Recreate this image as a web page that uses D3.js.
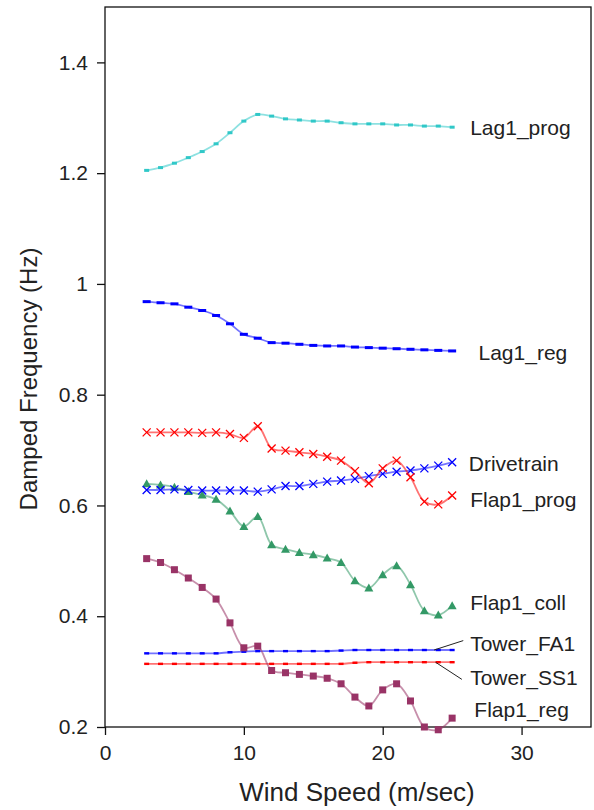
<!DOCTYPE html>
<html>
<head>
<meta charset="utf-8">
<script src="https://cdn.jsdelivr.net/npm/d3@7"></script>
<style>
  body { margin: 0; background: #fff; }
  text { font-family: "Liberation Sans", Arial, sans-serif; fill: #222; }
</style>
</head>
<body>
<script>
// wind speeds (m/sec) shared by all modes
var wind = [3, 4, 5, 6, 7, 8, 9, 10, 11, 12, 13, 14, 15, 16, 17, 18, 19, 20, 21, 22, 23, 24, 25];

// damped frequencies (Hz)
var lag1Prog  = [1.205, 1.210, 1.218, 1.228, 1.239, 1.253, 1.273, 1.294, 1.306, 1.303, 1.298, 1.296, 1.294, 1.294, 1.291, 1.289, 1.289, 1.289, 1.287, 1.287, 1.285, 1.285, 1.283];
var lag1Reg   = [0.968, 0.966, 0.964, 0.958, 0.952, 0.943, 0.928, 0.909, 0.902, 0.894, 0.893, 0.891, 0.889, 0.888, 0.888, 0.886, 0.885, 0.884, 0.883, 0.882, 0.881, 0.880, 0.879];
var flap1Prog = [0.732, 0.732, 0.732, 0.732, 0.731, 0.732, 0.729, 0.722, 0.743, 0.703, 0.699, 0.696, 0.693, 0.688, 0.681, 0.662, 0.640, 0.667, 0.681, 0.651, 0.607, 0.602, 0.618];
var drivetrain = [0.628, 0.628, 0.629, 0.628, 0.627, 0.627, 0.627, 0.627, 0.625, 0.629, 0.635, 0.635, 0.639, 0.643, 0.645, 0.648, 0.653, 0.657, 0.661, 0.663, 0.667, 0.672, 0.678];
var flap1Coll = [0.639, 0.637, 0.633, 0.625, 0.619, 0.611, 0.590, 0.562, 0.580, 0.529, 0.521, 0.515, 0.511, 0.505, 0.497, 0.464, 0.451, 0.475, 0.491, 0.457, 0.410, 0.402, 0.419];
var flap1Reg  = [0.504, 0.497, 0.484, 0.469, 0.452, 0.431, 0.388, 0.343, 0.346, 0.302, 0.298, 0.295, 0.292, 0.288, 0.278, 0.254, 0.238, 0.267, 0.278, 0.247, 0.200, 0.195, 0.216];
var towerFA1  = [0.333, 0.333, 0.333, 0.333, 0.333, 0.333, 0.335, 0.336, 0.337, 0.337, 0.337, 0.337, 0.337, 0.337, 0.338, 0.339, 0.339, 0.339, 0.339, 0.339, 0.339, 0.339, 0.339];
var towerSS1  = [0.314, 0.314, 0.314, 0.314, 0.314, 0.314, 0.314, 0.314, 0.314, 0.314, 0.314, 0.314, 0.314, 0.314, 0.314, 0.316, 0.317, 0.317, 0.317, 0.317, 0.317, 0.317, 0.317];

var xTicks = [0, 10, 20, 30];
var yTicks = [0.2, 0.4, 0.6, 0.8, 1.0, 1.2, 1.4];

// label anchors in data units (wind, Hz)
var labelNames = ["Lag1_prog", "Lag1_reg", "Drivetrain", "Flap1_prog", "Flap1_coll", "Tower_FA1", "Tower_SS1", "Flap1_reg"];
var labelAt = [[26.3, 1.283], [26.9, 0.876], [26.2, 0.676], [26.3, 0.611], [26.3, 0.425], [26.3, 0.351], [26.3, 0.290], [26.6, 0.231]];

var series = [
  {name: "Lag1_prog", values: lag1Prog, color: "#30c8c8", marker: "smallbox"},
  {name: "Lag1_reg", values: lag1Reg, color: "#0000ff", marker: "dash"},
  {name: "Tower_FA1", values: towerFA1, color: "#0000ff", marker: "tinydash"},
  {name: "Tower_SS1", values: towerSS1, color: "#ff0000", marker: "tinydash"},
  {name: "Flap1_reg", values: flap1Reg, color: "#993366", marker: "square"},
  {name: "Flap1_coll", values: flap1Coll, color: "#339966", marker: "triangle"},
  {name: "Drivetrain", values: drivetrain, color: "#0000ff", marker: "cross"},
  {name: "Flap1_prog", values: flap1Prog, color: "#ff0000", marker: "cross"}
];

var W = 594, H = 810;
var margin = {top: 7, right: 3, bottom: 83, left: 105};

var svg = d3.select("body").append("svg")
    .attr("width", W)
    .attr("height", H);

var x = d3.scaleLinear().domain([0, 35]).range([margin.left, W - margin.right]);
var y = d3.scaleLinear().domain([0.2, 1.5]).range([H - margin.bottom, margin.top]);

// frame
svg.append("rect")
    .attr("x", x(0)).attr("y", y(1.5))
    .attr("width", x(35) - x(0)).attr("height", y(0.2) - y(1.5))
    .attr("fill", "none").attr("stroke", "#111").attr("stroke-width", 1.3);

var line = d3.line()
    .x(function(d) { return x(d[0]); })
    .y(function(d) { return y(d[1]); })
    .curve(d3.curveCatmullRom.alpha(0.5));

series.forEach(function(s) {
  var pts = wind.map(function(w, i) { return [w, s.values[i]]; });

  svg.append("path")
      .datum(pts)
      .attr("d", line)
      .attr("fill", "none")
      .attr("stroke", s.color)
      .attr("stroke-opacity", 0.55)
      .attr("stroke-width", 1.8);

  var g = svg.append("g").attr("fill", s.color).attr("stroke", s.color);
  var m = g.selectAll(".m").data(pts).enter();

  if (s.marker == "square") {
    m.append("rect").attr("x", function(d) { return x(d[0]) - 3.5; })
      .attr("y", function(d) { return y(d[1]) - 3.5; })
      .attr("width", 7).attr("height", 7).attr("stroke", "none");
  } else if (s.marker == "smallbox") {
    m.append("rect").attr("x", function(d) { return x(d[0]) - 2.5; })
      .attr("y", function(d) { return y(d[1]) - 1.5; })
      .attr("width", 5).attr("height", 3).attr("stroke", "none");
  } else if (s.marker == "dash") {
    m.append("rect").attr("x", function(d) { return x(d[0]) - 4; })
      .attr("y", function(d) { return y(d[1]) - 1.5; })
      .attr("width", 8).attr("height", 3).attr("stroke", "none");
  } else if (s.marker == "tinydash") {
    m.append("rect").attr("x", function(d) { return x(d[0]) - 2.5; })
      .attr("y", function(d) { return y(d[1]) - 1.2; })
      .attr("width", 5).attr("height", 2.4).attr("stroke", "none");
  } else if (s.marker == "triangle") {
    m.append("path")
      .attr("transform", function(d) { return "translate(" + x(d[0]) + "," + y(d[1]) + ")"; })
      .attr("d", "M0,-4.5L4.5,3.5L-4.5,3.5Z").attr("stroke", "none");
  } else if (s.marker == "cross") {
    m.append("path")
      .attr("transform", function(d) { return "translate(" + x(d[0]) + "," + y(d[1]) + ")"; })
      .attr("d", "M-4,-4L4,4M-4,4L4,-4")
      .attr("fill", "none").attr("stroke-width", 1.3);
  }
});

// axes
var xAxis = svg.append("g")
    .attr("transform", "translate(0," + y(0.2) + ")")
    .call(d3.axisBottom(x).tickValues(xTicks).tickSize(8).tickPadding(10).tickSizeOuter(0));
var yAxis = svg.append("g")
    .attr("transform", "translate(" + x(0) + ",0)")
    .call(d3.axisLeft(y).tickValues(yTicks).tickSize(8).tickPadding(9).tickSizeOuter(0)
      .tickFormat(function(d) { return d3.format("")(+d.toFixed(1)); }));

[xAxis, yAxis].forEach(function(a) {
  a.selectAll("path, line").attr("stroke", "#111").attr("stroke-width", 1.3);
  a.selectAll("text").style("font-size", "21px").attr("fill", "#222");
});
xAxis.select(".domain").remove();
yAxis.select(".domain").remove();

// series labels
labelNames.forEach(function(n, i) {
  svg.append("text")
      .attr("x", x(labelAt[i][0]))
      .attr("y", y(labelAt[i][1]))
      .attr("dy", "0.35em")
      .style("font-size", "21px")
      .text(n);
});

// leader lines for the tower modes
svg.append("line")
    .attr("x1", x(23.7)).attr("y1", y(towerFA1[21]))
    .attr("x2", x(25.8)).attr("y2", y(0.356))
    .attr("stroke", "#222").attr("stroke-width", 1);
svg.append("line")
    .attr("x1", x(23.8)).attr("y1", y(towerSS1[21]))
    .attr("x2", x(25.7)).attr("y2", y(0.286))
    .attr("stroke", "#222").attr("stroke-width", 1);

// axis titles
svg.append("text")
    .attr("x", 357)
    .attr("y", 801)
    .attr("text-anchor", "middle")
    .style("font-size", "26px")
    .text("Wind Speed (m/sec)");

svg.append("text")
    .attr("transform", "translate(37," + 379 + ") rotate(-90)")
    .attr("text-anchor", "middle")
    .style("font-size", "24px")
    .text("Damped Frequency (Hz)");
</script>
</body>
</html>
